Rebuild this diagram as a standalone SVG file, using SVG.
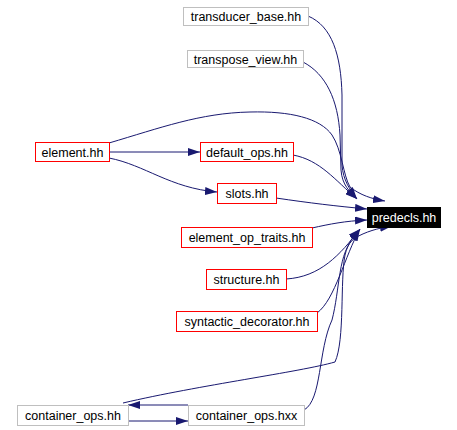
<svg xmlns="http://www.w3.org/2000/svg" width="457" height="430" viewBox="0 0 457 430">
<style>
text{font-family:"Liberation Sans",Arial,sans-serif;font-size:12.5px;text-anchor:middle;fill:#000}
.g{fill:#fff;stroke:#bfbfbf;stroke-width:1}
.r{fill:#fff;stroke:#ff0000;stroke-width:1}
.e{fill:none;stroke:#191970;stroke-width:1;marker-end:url(#a)}
</style>
<defs>
<marker id="a" viewBox="0 0 12 8" refX="12" refY="4" markerWidth="12" markerHeight="8" markerUnits="userSpaceOnUse" orient="auto">
<path d="M0,0 L12,4 L0,8 z" fill="#191970"/>
</marker>
</defs>
<rect width="457" height="430" fill="#fff"/>
<g id="connectors">
<path class="e" d="M308,16 C332,26 341,55 342,95 L342,165 C343,180 350,190 357,199"/>
<path class="e" d="M303,62 C326,74 338,100 340,135 L341,170 C342,185 350,192 357,199"/>
<path class="e" d="M109,143 C160,128 200,113 250,112 C290,111 320,118 332,135 C342,150 343,175 350,187 C360,195 372,199 385,201"/>
<path class="e" d="M293,155 C320,160 335,180 357,199"/>
<path class="e" d="M276,198 C310,203 335,206 367,209"/>
<path class="e" d="M312,228 C330,224 345,221 367,220"/>
<path class="e" d="M286,279 C320,277 340,255 360,229"/>
<path class="e" d="M317,313 C335,300 345,255 360,229"/>
<path class="e" d="M123,403 C200,385 300,372 335,362 C345,340 340,280 345,255 C348,242 355,234 360,229"/>
<path class="e" d="M304,410 C322,400 318,350 332,320 C340,290 338,250 355,238 C365,232 378,228 392,226"/>
<path class="e" d="M109,152 L200,152"/>
<path class="e" d="M109,158 C145,165 170,188 217,192"/>
<path class="e" d="M128,421 L188,421"/>
<path class="e" d="M188,405 L128,405"/>
</g>
<g id="transducer_base"><rect class="g" x="183.5" y="7.5" width="125" height="18"/><text x="246" y="21">transducer_base.hh</text></g>
<g id="transpose_view"><rect class="g" x="187.5" y="50.5" width="116" height="17"/><text x="245.5" y="63.5">transpose_view.hh</text></g>
<g id="element"><rect class="r" x="35.5" y="142.5" width="74" height="19"/><text x="72.5" y="156.5">element.hh</text></g>
<g id="default_ops"><rect class="r" x="200.5" y="142.5" width="93" height="19"/><text x="247" y="156.5">default_ops.hh</text></g>
<g id="slots"><rect class="r" x="217.5" y="183.5" width="59" height="20"/><text x="247" y="198">slots.hh</text></g>
<g id="element_op_traits"><rect class="r" x="181.5" y="227.5" width="131" height="20"/><text x="247" y="242">element_op_traits.hh</text></g>
<g id="structure"><rect class="r" x="206.5" y="269.5" width="80" height="20"/><text x="246.5" y="284">structure.hh</text></g>
<g id="syntactic_decorator"><rect class="r" x="176.5" y="311.5" width="141" height="20"/><text x="247" y="326">syntactic_decorator.hh</text></g>
<g id="predecls"><rect x="367" y="207" width="74" height="21" fill="#000"/><text x="404" y="222" style="fill:#fff">predecls.hh</text></g>
<g id="container_ops_hh"><rect class="g" x="17.5" y="405.5" width="111" height="20"/><text x="73" y="420">container_ops.hh</text></g>
<g id="container_ops_hxx"><rect class="g" x="188.5" y="405.5" width="116" height="20"/><text x="246.5" y="420">container_ops.hxx</text></g>
</svg>
